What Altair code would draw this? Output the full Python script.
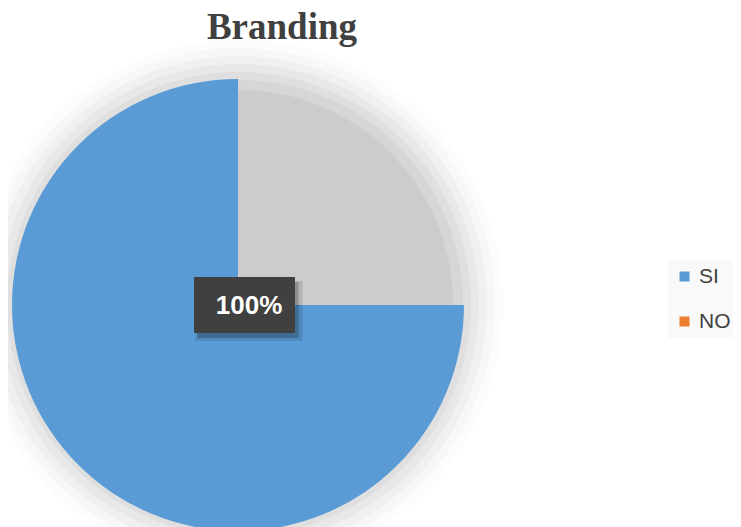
import math
import altair as alt
import pandas as pd

# ---- data ----
categories = ["SI", "NO"]
values = [100, 0]
colors = ["#5B9BD5", "#ED7D31"]

df = pd.DataFrame({"category": categories, "value": values})

TAU = 2 * math.pi
R = 226
# soft shadow behind the pie (radius, colour), outer to inner
shadow = [
    (264, "#fcfcfc"),
    (256, "#f7f7f7"),
    (248, "#f0f0f0"),
    (240, "#e8e8e8"),
    (232, "#dfdfdf"),
    (224, "#d6d6d6"),
    (214, "#cccccc"),
]

one = pd.DataFrame({"k": [0]})
layers = []
for r, c in shadow:
    layers.append(
        alt.Chart(one)
        .mark_arc(radius=r, theta=0, theta2=TAU, xOffset=1, yOffset=-1)
        .encode(color=alt.value(c))
    )

pie = alt.Chart(df).mark_arc(radius=R).encode(
    theta=alt.Theta("value:Q", stack=True, scale=alt.Scale(range=[TAU / 4, TAU])),
    color=alt.Color(
        "category:N",
        sort=categories,
        scale=alt.Scale(domain=categories, range=colors),
        legend=alt.Legend(
            title=None,
            orient="none",
            legendX=655,
            legendY=205,
            fillColor="#f9f9f9",
            padding=6,
            symbolType="square",
            symbolSize=100,
            symbolStrokeWidth=0,
            labelFontSize=21,
            labelFont="Liberation Sans",
            labelColor="#404040",
            labelOffset=4,
            rowPadding=23,
        ),
    ),
)
layers.append(pie)

box_path = "M-1,-0.554L1,-0.554L1,0.554L-1,0.554Z"
lbl = (
    alt.Chart(df)
    .transform_joinaggregate(total="sum(value)")
    .transform_calculate(pct="format(datum.value / datum.total, '.0%')")
    .transform_filter("datum.value > 0")
)
box_shadow2 = lbl.mark_point(
    shape=box_path, size=107 ** 2, filled=True, opacity=0.12, strokeWidth=0,
    xOffset=11, yOffset=6,
).encode(color=alt.value("#000000"))
box_shadow = lbl.mark_point(
    shape=box_path, size=101 ** 2, filled=True, opacity=0.2, strokeWidth=0,
    xOffset=10, yOffset=5,
).encode(color=alt.value("#000000"))
box = lbl.mark_point(
    shape=box_path, size=101 ** 2, filled=True, opacity=1, strokeWidth=0,
    xOffset=6.5,
).encode(color=alt.value("#404040"))
txt = lbl.mark_text(
    font="Liberation Sans", fontSize=26, fontWeight="bold", xOffset=11, yOffset=1,
).encode(text="pct:N", color=alt.value("#ffffff"))
layers += [box_shadow2, box_shadow, box, txt]

chart = (
    alt.layer(*layers)
    .properties(
        width=450,
        height=500,
        autosize=alt.AutoSizeParams(type="none"),
        padding={"left": 5, "top": 47, "right": 270, "bottom": 0},
        title=alt.TitleParams(
            "Branding",
            font="Liberation Serif",
            fontSize=37,
            fontWeight="bold",
            color="#404040",
            dx=44,
            offset=-7,
        ),
    )
    .configure_view(strokeWidth=0)
)

chart.save("out.html", embed_options={"renderer": "svg", "actions": False})
